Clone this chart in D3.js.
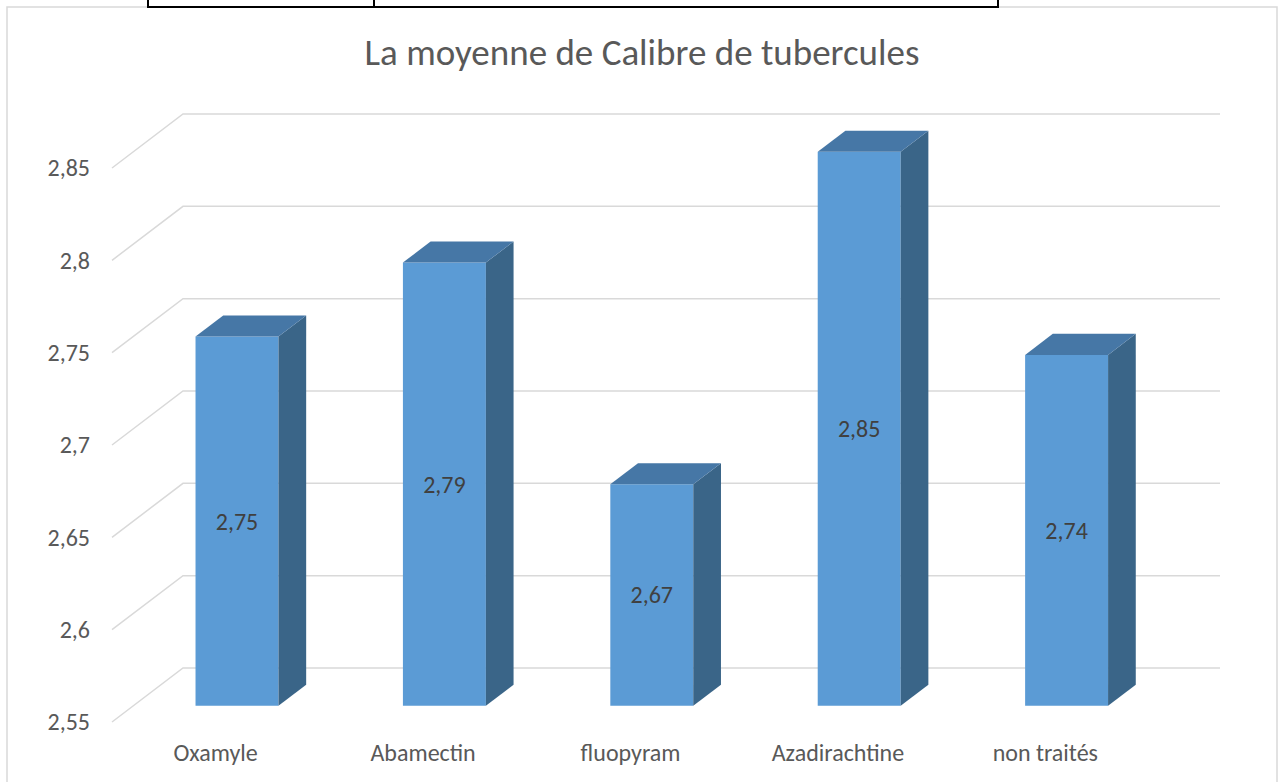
<!DOCTYPE html>
<html>
<head>
<meta charset="utf-8">
<script src="https://cdn.jsdelivr.net/npm/d3@7"></script>
<style>
  body { margin: 0; background: #fff; }
  text { font-family: Calibri, Carlito, Lato, sans-serif; }
</style>
</head>
<body>
<div id="chart"></div>
<script>
var categories = ["Oxamyle", "Abamectin", "fluopyram", "Azadirachtine", "non traités"];
var values = [2.75, 2.79, 2.67, 2.85, 2.74];
var yDomain = [2.55, 2.85];
var chartTitle = "La moyenne de Calibre de tubercules";

var width = 1279, height = 782;
var depthX = 71, depthY = -54;        // oblique offset of the back wall
var barFront = 0.3, barBack = 0.69;   // depth range of the columns

var svg = d3.select("#chart").append("svg")
    .attr("width", width)
    .attr("height", height)

// frame
svg.append("rect")
    .attr("x", 7).attr("y", 7)
    .attr("width", 1270).attr("height", 800)
    .attr("fill", "none")
    .attr("stroke", "#d9d9d9")
    .attr("stroke-width", 1.5)

svg.append("path")
    .attr("d", "M148,0V7H998V0M374,0V7")
    .attr("fill", "none")
    .attr("stroke", "#000")
    .attr("stroke-width", 2)

var xScale = d3.scaleBand()
    .domain(categories)
    .range([112, 1149])
    .paddingInner(0.6)
    .paddingOuter(0.3)

var yScale = d3.scaleLinear()
    .domain(yDomain)
    .range([722, 168])

function project(x, v, d) {
    return [x + d * depthX, yScale(v) + d * depthY];
}

function fmt(v) {
    return String(+v.toFixed(2)).replace(".", ",");
}

var ticks = yScale.ticks(6);

// gridlines: diagonal on the floor side + back wall
svg.append("g").selectAll("path")
    .data(ticks)
    .enter().append("path")
    .attr("d", function (t) {
        return d3.line()([project(112, t, 0), project(112, t, 1), project(1149, t, 1)]);
    })
    .attr("fill", "none")
    .attr("stroke", "#d9d9d9")
    .attr("stroke-width", 1.5)

svg.append("g").selectAll("text")
    .data(ticks)
    .enter().append("text")
    .attr("x", 90)
    .attr("y", function (t) { return yScale(t); })
    .attr("dy", "0.35em")
    .attr("text-anchor", "end")
    .attr("fill", "#595959")
    .style("font-size", "24px")
    .text(fmt)

// columns
var bars = svg.append("g").selectAll("g")
    .data(values)
    .enter().append("g")

bars.append("path")
    .attr("d", function (v, i) {
        var x0 = xScale(categories[i]), x1 = x0 + xScale.bandwidth();
        return d3.line()([project(x0, yDomain[0], barFront), project(x1, yDomain[0], barFront),
            project(x1, v, barFront), project(x0, v, barFront)]) + "Z";
    })
    .attr("fill", "#5b9bd5")

bars.append("path")
    .attr("d", function (v, i) {
        var x1 = xScale(categories[i]) + xScale.bandwidth();
        return d3.line()([project(x1, yDomain[0], barFront), project(x1, yDomain[0], barBack),
            project(x1, v, barBack), project(x1, v, barFront)]) + "Z";
    })
    .attr("fill", "#3a6588")

bars.append("path")
    .attr("d", function (v, i) {
        var x0 = xScale(categories[i]), x1 = x0 + xScale.bandwidth();
        return d3.line()([project(x0, v, barFront), project(x1, v, barFront),
            project(x1, v, barBack), project(x0, v, barBack)]) + "Z";
    })
    .attr("fill", "#4677a6")

bars.append("text")
    .attr("x", function (v, i) { return xScale(categories[i]) + xScale.bandwidth() / 2 + barFront * depthX; })
    .attr("y", function (v) { return (yScale(yDomain[0]) + yScale(v)) / 2 + barFront * depthY; })
    .attr("dy", "0.35em")
    .attr("text-anchor", "middle")
    .attr("fill", "#404040")
    .style("font-size", "24px")
    .text(fmt)

// category labels
svg.append("g").selectAll("text")
    .data(categories)
    .enter().append("text")
    .attr("x", function (c) { return xScale(c) + xScale.bandwidth() / 2; })
    .attr("y", 753)
    .attr("dy", "0.35em")
    .attr("text-anchor", "middle")
    .attr("fill", "#595959")
    .style("font-size", "24px")
    .text(function (c) { return c; })

svg.append("text")
    .attr("x", 642)
    .attr("y", 52)
    .attr("dy", "0.35em")
    .attr("text-anchor", "middle")
    .attr("fill", "#595959")
    .style("font-size", "37px")
    .text(chartTitle)
</script>
</body>
</html>
